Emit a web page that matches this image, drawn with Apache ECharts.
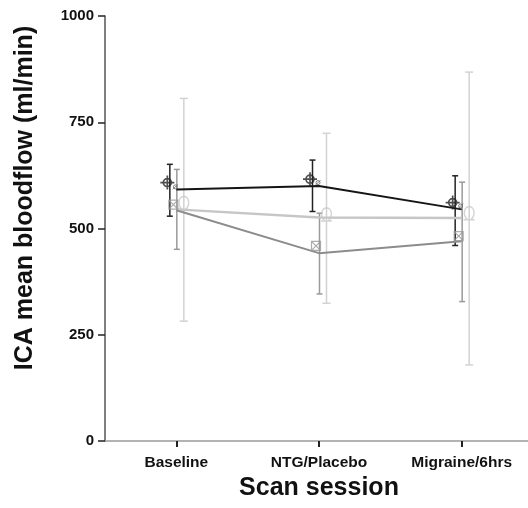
<!DOCTYPE html>
<html>
<head>
<meta charset="utf-8">
<script src="https://cdn.jsdelivr.net/npm/echarts@6/dist/echarts.min.js"></script>
<style>
  html, body { margin: 0; padding: 0; background: #fff; }
  #chart { width: 528px; height: 508px; }
</style>
</head>
<body>
<div id="chart"></div>
<script>
// Scan sessions on the x axis
const categories = ['Baseline', 'NTG/Placebo', 'Migraine/6hrs'];

// Mean lines per group (ml/min)
const blackLine = [592, 600, 545];
const midLine = [543, 442, 470];
const lightLine = [545, 526, 525];

// Error bar ranges per group
const blackLow = [529, 540, 460];
const blackHigh = [651, 661, 624];
const midLow = [451, 346, 328];
const midHigh = [639, 536, 609];
const lightLow = [282, 324, 179];
const lightHigh = [806, 724, 868];

// Marker values per group
const blackMarker = [608, 616, 561];
const dotMarker = [598, 608, 553];
const midMarker = [556, 459, 482];
const lightMarker = [560, 533, 536];

// Y axis ticks
const yMin = 0, yMax = 1000, yStep = 250;

const FONT = '"Liberation Sans", Arial, sans-serif';

const COL_BLACK = '#151515';
const COL_MID = '#8c8c8c';
const COL_LIGHT = '#c6c6c6';

function errorBars(name, low, high, dx, color, capHalf, width) {
  return {
    name: name,
    type: 'custom',
    z: 3,
    data: categories.map((c, i) => [i, low[i], high[i]]),
    encode: { x: 0, y: [1, 2] },
    renderItem: function (params, api) {
      const lo = api.coord([api.value(0), api.value(1)]);
      const hi = api.coord([api.value(0), api.value(2)]);
      const x = lo[0] + dx;
      const style = { stroke: color, lineWidth: width };
      return {
        type: 'group',
        children: [
          { type: 'line', shape: { x1: x, y1: hi[1], x2: x, y2: lo[1] }, style: style },
          { type: 'line', shape: { x1: x - capHalf, y1: hi[1], x2: x + capHalf, y2: hi[1] }, style: style },
          { type: 'line', shape: { x1: x - capHalf, y1: lo[1], x2: x + capHalf, y2: lo[1] }, style: style }
        ]
      };
    }
  };
}

function meanLine(name, values, color, width) {
  return {
    name: name,
    type: 'line',
    data: values,
    showSymbol: false,
    symbol: 'none',
    z: 4,
    lineStyle: { color: color, width: width },
    emphasis: { disabled: true }
  };
}

function markers(name, values, symbol, size, dx, color, width) {
  return {
    name: name,
    type: 'scatter',
    data: values,
    symbol: symbol,
    symbolSize: size,
    symbolOffset: [dx, 0],
    z: 5,
    itemStyle: { color: 'rgba(0,0,0,0)', borderColor: color, borderWidth: width },
    emphasis: { disabled: true }
  };
}

const crossCircle = 'path://M0,-7 L0,7 M-7,0 L7,0 M4,0 A4,4 0 1,1 -4,0 A4,4 0 1,1 4,0 Z';
const smallRing = 'path://M2,0 A2,2 0 1,1 -2,0 A2,2 0 1,1 2,0 Z M-2.5,2.5 L2.5,-2.5';
const boxCross = 'path://M-4,-4 L4,-4 L4,4 L-4,4 Z M-4,-4 L0,0 L4,-4 M-4,4 L0,0 L4,4';
const omega = 'path://M-5,6 L-1.5,6 C-6,2 -5,-6 0,-6 C5,-6 6,2 1.5,6 L5,6';

const chart = echarts.init(document.getElementById('chart'), null, { renderer: 'canvas' });

chart.setOption({
  animation: false,
  backgroundColor: '#ffffff',
  grid: { left: 105, top: 16, width: 428, height: 425, containLabel: false, outerBoundsMode: 'none' },
  xAxis: {
    type: 'category',
    data: categories,
    boundaryGap: true,
    name: 'Scan session',
    nameLocation: 'middle',
    nameGap: 33,
    nameTextStyle: { fontFamily: FONT, fontWeight: 'bold', fontSize: 25, color: '#111' },
    axisLine: { show: true, lineStyle: { color: '#9a9a9a', width: 1.5 } },
    axisTick: { show: true, alignWithLabel: true, length: 6, lineStyle: { color: '#222', width: 2 } },
    axisLabel: { fontFamily: FONT, fontWeight: 'bold', fontSize: 15.5, color: '#111', margin: 14 },
    splitLine: { show: false }
  },
  yAxis: {
    type: 'value',
    min: yMin,
    max: yMax,
    interval: yStep,
    axisLine: { show: true, lineStyle: { color: '#555', width: 1.5 } },
    axisTick: { show: true, length: 7, lineStyle: { color: '#222', width: 1.5 } },
    axisLabel: {
      fontFamily: FONT, fontWeight: 'bold', fontSize: 15, color: '#111', margin: 11,
      formatter: function (v) { return String(v); }
    },
    splitLine: { show: false }
  },
  graphic: [{
    type: 'text',
    x: 25,
    y: 198,
    rotation: Math.PI / 2,
    style: {
      text: 'ICA mean bloodflow (ml/min)',
      font: 'bold 25px ' + FONT,
      fill: '#111',
      align: 'center',
      verticalAlign: 'middle'
    }
  }],
  series: [
    errorBars('lightBars', lightLow, lightHigh, 7.5, '#d2d2d2', 4, 1.5),
    errorBars('midBars', midLow, midHigh, 0.5, '#9a9a9a', 3, 1.5),
    errorBars('blackBars', blackLow, blackHigh, -6.5, '#222', 3, 1.5),
    meanLine('light', lightLine, COL_LIGHT, 2.5),
    meanLine('mid', midLine, COL_MID, 2),
    meanLine('black', blackLine, COL_BLACK, 2),
    markers('blackMk', blackMarker, crossCircle, 14, -9, '#222', 1.7),
    markers('dotMk', dotMarker, smallRing, 5, -1, '#666', 1),
    markers('midMk', midMarker, boxCross, 9, -3, '#999', 1.2),
    markers('lightMk', lightMarker, omega, [11, 13], 7.5, '#c8c8c8', 1.5)
  ]
});
</script>
</body>
</html>
